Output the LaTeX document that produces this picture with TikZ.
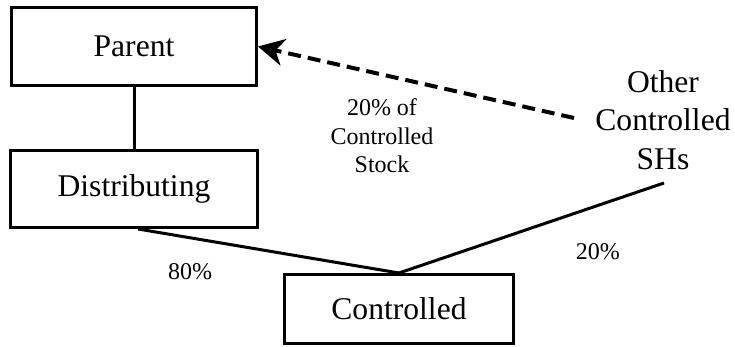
\documentclass[tikz,border=0pt]{standalone}
\usepackage{fontspec}
\setmainfont{Liberation Serif}
\usetikzlibrary{positioning,arrows.meta}

\begin{document}
\begin{tikzpicture}[x=0.5pt,y=-0.5pt,line width=1.5pt,
	entity/.style={draw,inner sep=0pt,font=\fontsize{15.8}{19}\selectfont},
	share/.style={inner sep=0pt,align=center,font=\fontsize{12}{14.3}\selectfont}]
%		\tikzstyle{entity} = [draw, rectangle]
		\useasboundingbox (0,0) rectangle (735,347);
		\node[entity,minimum width=122.5pt,minimum height=39pt] (parent) at (134,46.5) {Parent};
		\node[entity,minimum width=123.5pt,minimum height=38.5pt] (dist) at (134,189) {Distributing};
		\node[entity,minimum width=114.5pt,minimum height=34.5pt] (ctrl) at (399,309) {Controlled};
		\node[inner sep=0pt,align=center,font=\fontsize{15.8}{19.3}\selectfont] (others) at (663,120) {Other\\Controlled\\SHs};
		\coordinate (shs_end) at (664,183);
		\coordinate (shs_tail) at (574,118);
		\draw (parent) -- (dist);
		\draw ([xshift=2pt]dist.south) -- (ctrl.north) node[share,pos=0.2,below=12pt] (pct_a) {80\%};
		\draw (ctrl.north) -- (shs_end) node[share,pos=0.75,below=18.5pt] (pct_b) {20\%};
		\draw[line width=2pt,dash pattern=on 6.5pt off 3.5pt,-{Stealth[length=13pt,width=13.5pt,inset=4pt]}] (shs_tail) -- (parent.east);
		\node[share] (stock) at (382,136) {20\% of\\Controlled\\Stock};% label of the dashed arrow
	\end{tikzpicture}
\end{document}
